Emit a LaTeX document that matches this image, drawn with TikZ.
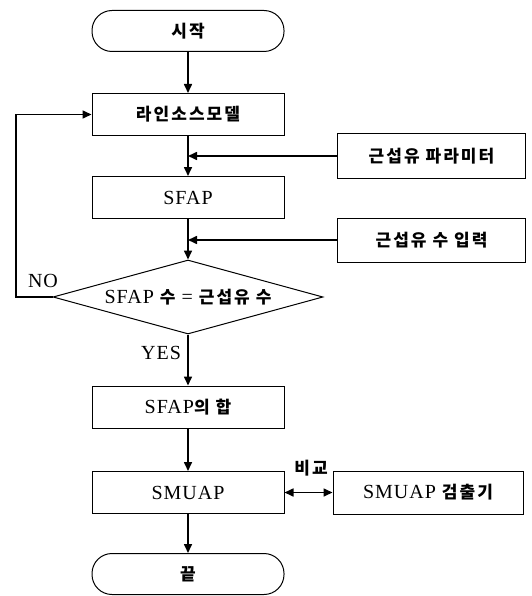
\documentclass[tikz,border=0pt]{standalone}
\usepackage{fontspec}
\setmainfont{Liberation Serif}[LetterSpace=5]
\newfontfamily\krfont{Noto Sans CJK KR}[LetterSpace=12]
\newcommand{\kor}[1]{{\krfont\bfseries\fontsize{17}{20}\selectfont #1}}
\usetikzlibrary{arrows.meta,shapes.geometric}
\begin{document}
\begin{tikzpicture}[x=1pt,y=-1pt,
  every node/.style={font=\fontsize{20}{24}\selectfont},
  box/.style={draw,line width=1pt,minimum width=192pt,minimum height=42pt,inner sep=0pt},
  sidebox/.style={draw,line width=1pt,minimum width=188pt,minimum height=44pt,inner sep=0pt},
  term/.style={draw,line width=1pt,rounded corners=20pt,minimum width=192pt,minimum height=41pt,inner sep=0pt},
  decide/.style={draw,line width=1pt,diamond,aspect=3.65,minimum width=270pt,minimum height=74pt,inner sep=0pt},
  ar/.style={line width=1.6pt,-{Triangle[length=9pt,width=8pt]}},
  dar/.style={line width=1.6pt,{Triangle[length=9pt,width=8pt]}-{Triangle[length=9pt,width=8pt]}},
  lbl/.style={inner sep=0pt}
]
\useasboundingbox (0,0) rectangle (531,596);
\node[term] (start) at (188,31) {\kor{시작}};
\node[box] (line) at (188,114.5) {\kor{라인소스모델}};
\node[sidebox] (param) at (431.5,156) {\kor{근섭유 파라미터}};
\node[box] (sfap) at (188,197.5) {SFAP};
\node[sidebox] (count) at (431.5,240) {\kor{근섭유 수 입력}};
\node[decide] (dec) at (188,297) {SFAP \kor{수} = \kor{근섭유 수}};
\node[box] (sum) at (188,407) {SFAP\kor{의 합}};
\node[box] (smuap) at (188,492.5) {SMUAP};
\node[sidebox,minimum width=190pt,minimum height=43pt] (det) at (428,492.5) {SMUAP \kor{검출기}};
\node[term] (end) at (188,574) {\kor{끝}};
\coordinate (loop) at (16,297);
\draw[ar] (start) -- (line);
\draw[ar] (line) -- (sfap);
\draw[ar] (sfap) -- (dec);
\draw[ar] (dec) -- (sum);
\draw[ar] (sum) -- (smuap);
\draw[ar] (smuap) -- (end);
\draw[ar] (param.west) -- (param.west -| line.south);
\draw[ar] (count.west) -- (count.west -| sfap.south);
\draw[ar] (dec.west) -- (loop) |- (line.west);
\draw[dar] (smuap.east) -- (det.west);
\node[lbl] (no) at (43,281) {NO};
\node[lbl] (yes) at (161,353) {YES};
\node[lbl] (cmp) at (311,468) {\kor{비교}};
\end{tikzpicture}
\end{document}
